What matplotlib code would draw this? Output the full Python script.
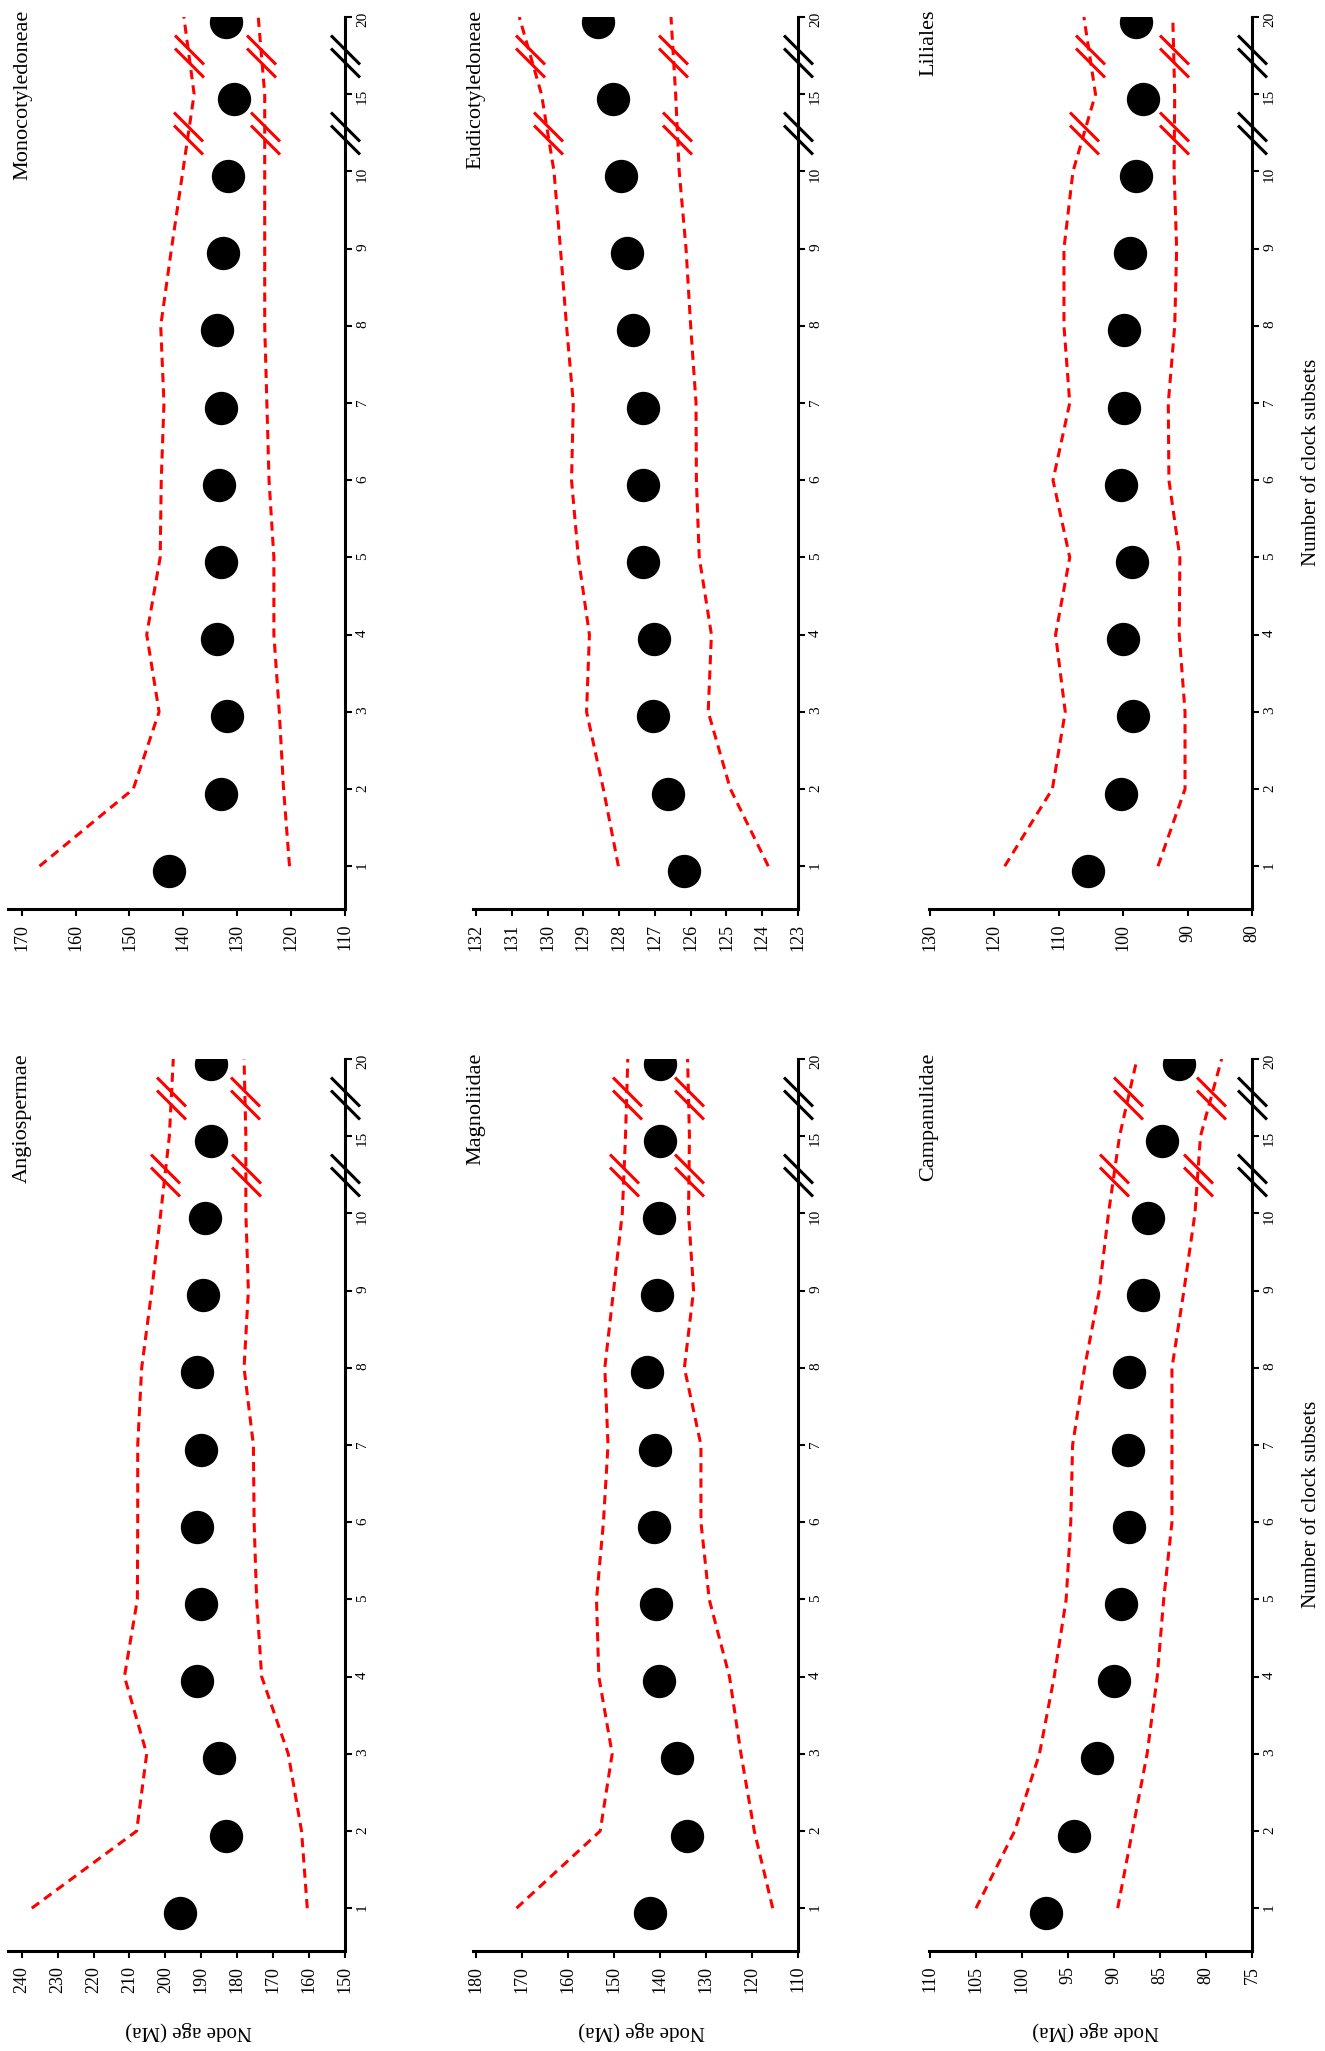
"""
Node-age estimates against the number of clock subsets, six clades.
The page is laid out sideways: age runs along the horizontal axis
(oldest on the left), subsets run up the right-hand axis.
"""

import numpy as np
import matplotlib
matplotlib.use("Agg")
import matplotlib.pyplot as plt
from matplotlib import transforms
from matplotlib.path import Path

plt.rcParams["font.family"] = ["Liberation Serif", "DejaVu Serif"]

# ── Data ────────────────────────────────────────────
SUBSETS = ["1", "2", "3", "4", "5", "6", "7", "8", "9", "10", "15", "20"]

MONOCOT_AGE = [142.6, 133.1, 131.9, 133.8, 133.1, 133.3, 133.0, 133.8, 132.6, 131.7, 130.6, 132.0]
MONOCOT_UPPER = [166.7, 149.3, 144.5, 146.8, 144.3, 144.1, 143.6, 144.2, 142.2, 140.1, 138.0, 139.9]
MONOCOT_LOWER = [120.3, 121.4, 122.2, 123.2, 123.2, 124.1, 124.5, 124.9, 124.9, 124.9, 124.9, 126.1]

EUDICOT_AGE = [126.19, 126.64, 127.04, 127.02, 127.32, 127.34, 127.34, 127.61, 127.78, 127.95, 128.18, 128.59]
EUDICOT_UPPER = [128.02, 128.44, 128.91, 128.83, 129.14, 129.33, 129.28, 129.47, 129.64, 129.82, 130.17, 130.79]
EUDICOT_LOWER = [123.83, 124.89, 125.51, 125.42, 125.76, 125.84, 125.85, 126.00, 126.13, 126.32, 126.42, 126.55]

LILIALES_AGE = [105.5, 100.4, 98.5, 100.0, 98.7, 100.4, 99.9, 99.9, 99.0, 98.0, 96.9, 98.0]
LILIALES_UPPER = [118.4, 111.0, 109.0, 110.5, 108.3, 110.9, 108.3, 109.2, 109.2, 107.8, 104.3, 106.1]
LILIALES_LOWER = [94.6, 90.4, 90.4, 91.3, 91.2, 92.9, 93.0, 92.0, 91.7, 92.1, 92.0, 92.3]

ANGIO_AGE = [195.9, 183.2, 185.0, 191.1, 190.2, 191.1, 190.2, 191.3, 189.6, 188.9, 187.2, 187.3]
ANGIO_UPPER = [237.2, 208.0, 205.2, 211.4, 207.8, 207.7, 207.7, 206.6, 203.8, 201.3, 198.9, 197.8]
ANGIO_LOWER = [160.5, 162.1, 165.8, 173.2, 174.6, 175.3, 175.5, 178.1, 176.9, 177.6, 177.6, 178.1]

MAGNOL_AGE = [142.1, 134.2, 136.4, 140.3, 140.8, 141.2, 141.0, 142.8, 140.7, 140.3, 139.9, 140.0]
MAGNOL_UPPER = [171.2, 153.0, 150.4, 153.3, 153.8, 152.3, 151.3, 152.0, 150.1, 148.2, 147.5, 147.0]
MAGNOL_LOWER = [115.5, 119.5, 122.4, 124.9, 129.3, 131.1, 131.1, 134.7, 132.7, 133.8, 133.6, 134.0]

CAMPAN_AGE = [97.4, 94.4, 91.9, 90.0, 89.2, 88.4, 88.5, 88.4, 86.8, 86.3, 84.8, 82.9]
CAMPAN_UPPER = [105.0, 100.8, 98.1, 96.5, 95.2, 94.7, 94.5, 93.2, 91.6, 90.6, 89.4, 87.5]
CAMPAN_LOWER = [89.6, 88.0, 86.4, 85.3, 84.6, 83.7, 83.7, 83.7, 82.4, 81.2, 80.6, 78.3]

# age tick values per clade
MONOCOT_TICKS = list(range(110, 171, 10))
EUDICOT_TICKS = list(range(123, 133, 1))
LILIALES_TICKS = list(range(80, 131, 10))
ANGIO_TICKS = list(range(150, 241, 10))
MAGNOL_TICKS = list(range(110, 181, 10))
CAMPAN_TICKS = list(range(75, 111, 5))

# ── Layout (pixels on a 1325 x 2051 page) ───────────
W, H = 1325, 2051
DPI = 100
STEP = 77.2                      # px between subset positions
ROW_TOP = [17, 1059]             # px of the "20" tick, per row
COL_SPINE = [345, 798, 1252]     # px of the subsets axis line
COL_TICK_HI = [21.7, 476, 930]   # px of the oldest age tick
COL_AXIS_LEFT = [8, 473, 929]    # px where the age axis starts
TITLE_X = [13, 466, 919]
TITLE_TOP = [10, 1053]
Y_LOW = 0.45

RED = "#ff0000"
LW = 2.2


def break_path():
    """Two parallel slanted strokes used to mark an axis break."""
    h, d = 14.5, 6.5
    verts = [(-h, h + d), (h, -h + d), (-h, h - d), (h, -h - d)]
    codes = [Path.MOVETO, Path.LINETO, Path.MOVETO, Path.LINETO]
    return Path(verts, codes)


BREAK = break_path()
BREAK_MS = 2 * 21.0 * 72 / DPI


def draw_panel(fig, row, col, name, age, upper, lower, ticks,
               show_age_label, show_subset_label):
    lo, hi = ticks[0], ticks[-1]
    left, right = COL_AXIS_LEFT[col], COL_SPINE[col]
    span = right - COL_TICK_HI[col]
    ext = (COL_TICK_HI[col] - left) / span * (hi - lo)

    top = ROW_TOP[row]
    bottom = top + (12 - Y_LOW) * STEP
    ax = fig.add_axes([left / W, 1 - bottom / H, (right - left) / W, (bottom - top) / H])

    pos = np.arange(1, len(SUBSETS) + 1)

    for band in (upper, lower):
        ax.plot(band, pos, color=RED, lw=LW, dashes=(3, 2), zorder=2)
        xb = np.interp([10.5, 11.5], pos, band)
        ax.plot(xb, [10.5, 11.5], ls="none", marker=BREAK, ms=BREAK_MS,
                mec=RED, mew=LW, zorder=3)

    dot_tr = ax.transData + transforms.ScaledTranslation(0, -4.5 / DPI, fig.dpi_scale_trans)
    ax.plot(age, pos, ls="none", marker="o", ms=23, color="black",
            transform=dot_tr, zorder=4)

    # breaks on the subsets axis
    ax.plot([lo, lo], [10.5, 11.5], ls="none", marker=BREAK, ms=BREAK_MS,
            mec="black", mew=LW, clip_on=False, zorder=5)

    ax.set_xlim(hi + ext, lo)
    ax.set_ylim(Y_LOW, 12)
    ax.set_xticks(ticks)
    ax.set_xticklabels([str(t) for t in ticks])
    ax.set_yticks(pos)
    ax.set_yticklabels(SUBSETS)
    ax.yaxis.tick_right()

    for side in ("top", "left"):
        ax.spines[side].set_visible(False)
    for side in ("bottom", "right"):
        ax.spines[side].set_linewidth(LW)

    ax.tick_params(axis="x", direction="out", length=5, width=1.5,
                   labelsize=13, labelrotation=90, pad=6)
    ax.tick_params(axis="y", direction="out", length=5, width=1.5,
                   labelsize=11, labelrotation=90, pad=3)

    fig.text(TITLE_X[col] / W, 1 - TITLE_TOP[row] / H, name, rotation=90,
             ha="left", va="top", fontsize=16)

    if show_age_label:
        xc = (COL_TICK_HI[col] + right) / 2 + 5
        fig.text(xc / W, 1 - 2031 / H, "Node age (Ma)", rotation=180,
                 ha="center", va="center", fontsize=15)
    if show_subset_label:
        yc = top + (12 - (Y_LOW + 12) / 2) * STEP
        fig.text(1311 / W, 1 - yc / H, "Number of clock subsets", rotation=90,
                 ha="center", va="center", fontsize=15)
    return ax


def main():
    fig = plt.figure(figsize=(W / DPI, H / DPI), dpi=DPI)

    draw_panel(fig, 0, 0, "Monocotyledoneae", MONOCOT_AGE, MONOCOT_UPPER, MONOCOT_LOWER,
               MONOCOT_TICKS, False, False)
    draw_panel(fig, 0, 1, "Eudicotyledoneae", EUDICOT_AGE, EUDICOT_UPPER, EUDICOT_LOWER,
               EUDICOT_TICKS, False, False)
    draw_panel(fig, 0, 2, "Liliales", LILIALES_AGE, LILIALES_UPPER, LILIALES_LOWER,
               LILIALES_TICKS, False, True)
    draw_panel(fig, 1, 0, "Angiospermae", ANGIO_AGE, ANGIO_UPPER, ANGIO_LOWER,
               ANGIO_TICKS, True, False)
    draw_panel(fig, 1, 1, "Magnoliidae", MAGNOL_AGE, MAGNOL_UPPER, MAGNOL_LOWER,
               MAGNOL_TICKS, True, False)
    draw_panel(fig, 1, 2, "Campanulidae", CAMPAN_AGE, CAMPAN_UPPER, CAMPAN_LOWER,
               CAMPAN_TICKS, True, True)

    fig.savefig("out.png", dpi=DPI)
    plt.close(fig)


if __name__ == "__main__":
    main()
